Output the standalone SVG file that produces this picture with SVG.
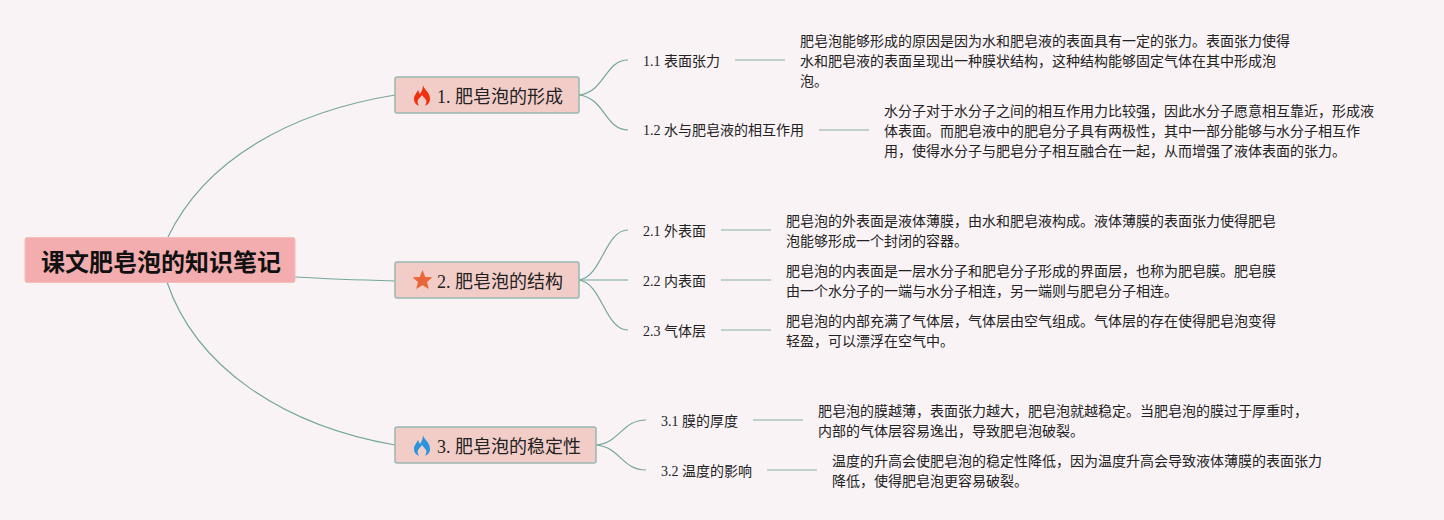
<svg xmlns="http://www.w3.org/2000/svg" width="1444" height="520" viewBox="0 0 1444 520">
<style>
text{font-family:"Liberation Serif","Noto Sans CJK SC",sans-serif;fill:#222}
.root rect{fill:#f3adaf;stroke:#f5bcbc;stroke-width:1}
.root text{font-size:24px;font-weight:700;fill:#111}
.topic rect{fill:#f2cdc8;stroke:#9ab8b0;stroke-width:1.500}
.topic text{font-size:18px}
.sub text{font-size:14px}
.note text{font-size:14px}
.c{fill:none;stroke:#74a69b;stroke-width:1.200}
.d{fill:none;stroke:#adc5be;stroke-width:1.500}
</style>
<defs>
<path id="flame" d="M1-10C2-5 8-3 8 4C8 8 5 10 3 11C4 9 5 7 4 5C3 3 1 2 0 0C-1 2-3 3-4 5C-5 7-4 9-3 11C-5 10-8 8-8 4C-8 0-5-2-4-5C-3-3-3-2-2-1C0-4 1-7 1-10Z"/>
</defs>
<rect width="1444" height="520" fill="#f9f3f6"/>
<g id="connectors">
<path class="c" d="M168 237C205 160 290 112 395 95"/>
<path class="c" d="M295 277C330 279 360 280 395 281"/>
<path class="c" d="M167 282C195 365 280 425 395 445"/>
<path class="c" d="M579 95C605 92 605 60 628 60"/>
<path class="c" d="M579 95C605 98 605 130 628 130"/>
<path class="c" d="M579 280C602 277 605 230 628 230"/>
<path class="c" d="M579 280H628"/>
<path class="c" d="M579 280C602 283 605 330 628 330"/>
<path class="c" d="M596 445C620 443 622 420 646 420"/>
<path class="c" d="M596 445C620 447 622 470 646 470"/>
<path class="d" d="M735 60H785"/>
<path class="d" d="M819 130H869"/>
<path class="d" d="M721 230H771"/>
<path class="d" d="M721 280H771"/>
<path class="d" d="M721 330H771"/>
<path class="d" d="M753 420H803"/>
<path class="d" d="M767 470H817"/>
</g>
<g id="root" class="root"><rect x="25" y="237.500" width="270" height="45" rx="2"/><text x="41" y="271">课文肥皂泡的知识笔记</text></g>
<g id="t1" class="topic"><rect x="395" y="77" width="184" height="36" rx="2"/><use href="#flame" x="422" y="95" fill="#f0300f"/><text x="437" y="103">1. 肥皂泡的形成</text></g>
<g id="t2" class="topic"><rect x="395" y="262" width="184" height="36" rx="2"/><polygon points="422.500,270 425.300,277 432.500,277.300 427,282 428.800,289 422.500,285.200 416.200,289 418,282 412.500,277.300 419.700,277" fill="#e8673a"/><text x="437" y="288">2. 肥皂泡的结构</text></g>
<g id="t3" class="topic"><rect x="395" y="427" width="201" height="36" rx="2"/><use href="#flame" x="422" y="445" fill="#2a94dc"/><text x="437" y="453">3. 肥皂泡的稳定性</text></g>
<g id="s11" class="sub"><text x="643" y="66">1.1 表面张力</text></g>
<g id="s12" class="sub"><text x="643" y="135">1.2 水与肥皂液的相互作用</text></g>
<g id="s21" class="sub"><text x="643" y="236">2.1 外表面</text></g>
<g id="s22" class="sub"><text x="643" y="286">2.2 内表面</text></g>
<g id="s23" class="sub"><text x="643" y="336">2.3 气体层</text></g>
<g id="s31" class="sub"><text x="661" y="426">3.1 膜的厚度</text></g>
<g id="s32" class="sub"><text x="661" y="476">3.2 温度的影响</text></g>
<g id="n11" class="note"><text x="800" y="46">肥皂泡能够形成的原因是因为水和肥皂液的表面具有一定的张力。表面张力使得</text><text x="800" y="66">水和肥皂液的表面呈现出一种膜状结构，这种结构能够固定气体在其中形成泡</text><text x="800" y="86">泡。</text></g>
<g id="n12" class="note"><text x="884" y="116">水分子对于水分子之间的相互作用力比较强，因此水分子愿意相互靠近，形成液</text><text x="884" y="136">体表面。而肥皂液中的肥皂分子具有两极性，其中一部分能够与水分子相互作</text><text x="884" y="156">用，使得水分子与肥皂分子相互融合在一起，从而增强了液体表面的张力。</text></g>
<g id="n21" class="note"><text x="786" y="226">肥皂泡的外表面是液体薄膜，由水和肥皂液构成。液体薄膜的表面张力使得肥皂</text><text x="786" y="246">泡能够形成一个封闭的容器。</text></g>
<g id="n22" class="note"><text x="786" y="276">肥皂泡的内表面是一层水分子和肥皂分子形成的界面层，也称为肥皂膜。肥皂膜</text><text x="786" y="296">由一个水分子的一端与水分子相连，另一端则与肥皂分子相连。</text></g>
<g id="n23" class="note"><text x="786" y="326">肥皂泡的内部充满了气体层，气体层由空气组成。气体层的存在使得肥皂泡变得</text><text x="786" y="346">轻盈，可以漂浮在空气中。</text></g>
<g id="n31" class="note"><text x="818" y="416">肥皂泡的膜越薄，表面张力越大，肥皂泡就越稳定。当肥皂泡的膜过于厚重时，</text><text x="818" y="436">内部的气体层容易逸出，导致肥皂泡破裂。</text></g>
<g id="n32" class="note"><text x="832" y="466">温度的升高会使肥皂泡的稳定性降低，因为温度升高会导致液体薄膜的表面张力</text><text x="832" y="486">降低，使得肥皂泡更容易破裂。</text></g>
</svg>
